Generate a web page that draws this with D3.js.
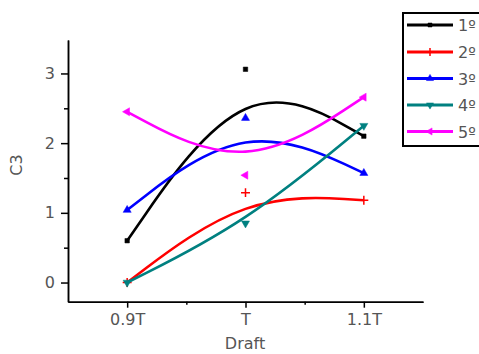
<!DOCTYPE html>
<html>
<head>
<meta charset="utf-8">
<script src="https://cdn.jsdelivr.net/npm/d3@7/dist/d3.min.js"></script>
<style>
  body { margin: 0; background: #fff; }
  svg { display: block; }
  .axis text { font-family: "DejaVu Sans", sans-serif; font-size: 16px; fill: #555; }
  .axis path, .axis line { stroke: #000; stroke-width: 1.5; }
  .label { font-family: "DejaVu Sans", sans-serif; font-size: 16px; fill: #555; }
</style>
</head>
<body>
<div id="chart"></div>
<script>
// draft categories along x
const categories = ["0.9T", "T", "1.1T"];
const xValues = [0.9, 1.0, 1.1];
const yTicks = [0, 1, 2, 3];

// C3 values per series
const seriesNames = ["1º", "2º", "3º", "4º", "5º"];
const s1 = [0.60, 3.06, 2.10];
const s2 = [0.00, 1.29, 1.18];
const s3 = [1.04, 2.36, 1.57];
const s4 = [0.00, 0.85, 2.25];
const s5 = [2.45, 1.54, 2.66];
const colors = ["#000000", "#ff0000", "#0000ff", "#008080", "#ff00ff"];

const width = 479, height = 354;

const svg = d3.select("#chart").append("svg")
    .attr("width", width)
    .attr("height", height);

const x = d3.scaleLinear().domain([0.85, 1.15]).range([68, 423]);
const y = d3.scaleLinear().domain([-0.275, 3.48]).range([301.7, 40]);

// axes (major + minor ticks)
svg.append("g")
    .attr("class", "axis")
    .attr("transform", "translate(0,301.7)")
    .call(d3.axisBottom(x).tickValues(xValues).tickFormat((d, i) => categories[i])
        .tickSize(6).tickSizeOuter(0).tickPadding(6));
svg.append("g")
    .attr("class", "axis")
    .attr("transform", "translate(0,301.7)")
    .call(d3.axisBottom(x).tickValues([0.95, 1.05]).tickFormat("").tickSize(3).tickSizeOuter(0));

svg.append("g")
    .attr("class", "axis")
    .attr("transform", "translate(68,0)")
    .call(d3.axisLeft(y).tickValues(yTicks).tickFormat(d3.format("d"))
        .tickSize(7).tickSizeOuter(0).tickPadding(6));
svg.append("g")
    .attr("class", "axis")
    .attr("transform", "translate(68,0)")
    .call(d3.axisLeft(y).tickValues([0.5, 1.5, 2.5]).tickFormat("").tickSize(4).tickSizeOuter(0));

// axis titles
svg.append("text")
    .attr("class", "label")
    .attr("x", 245).attr("y", 349)
    .attr("text-anchor", "middle")
    .text("Draft");
svg.append("text")
    .attr("class", "label")
    .attr("transform", "translate(22,165)rotate(-90)")
    .attr("text-anchor", "middle")
    .text("C3");

const allSeries = [s1, s2, s3, s4, s5];

// marker per series
function marker(i, size) {
    if (i === 0) return d3.symbol(d3.symbolSquare, size)();
    if (i === 1) return d3.symbol(d3.symbolPlus, size)();
    return d3.symbol(d3.symbolTriangle, size)();
}
const markerRot = [0, 0, 0, 180, -90];

const line = d3.line()
    .x((d, i) => x(xValues[i]))
    .y(d => y(d))
    .curve(d3.curveBasis);

allSeries.forEach((vals, si) => {
    const g = svg.append("g");
    g.append("path")
        .datum(vals)
        .attr("fill", "none")
        .attr("stroke", colors[si])
        .attr("stroke-width", 2.6)
        .attr("d", line);
    g.selectAll("path.pt")
        .data(vals)
        .enter().append("path")
        .attr("class", "pt")
        .attr("d", marker(si, si === 0 ? 20 : 28))
        .attr("transform", (d, i) => `translate(${x(xValues[i])},${y(d)})rotate(${markerRot[si]})`)
        .attr("fill", si === 1 ? "none" : colors[si])
        .attr("stroke", colors[si])
        .attr("stroke-width", si === 1 ? 1.5 : 0.5);
});

// legend
const legend = svg.append("g");
legend.append("rect")
    .attr("x", 403).attr("y", 13)
    .attr("width", 90).attr("height", 133)
    .attr("fill", "#fff")
    .attr("stroke", "#000")
    .attr("stroke-width", 2);

const legendY = [25, 52, 78.5, 105, 131.5];
seriesNames.forEach((name, i) => {
    const ly = legendY[i];
    legend.append("line")
        .attr("x1", 407).attr("x2", 453)
        .attr("y1", ly).attr("y2", ly)
        .attr("stroke", colors[i])
        .attr("stroke-width", 3);
    legend.append("path")
        .attr("d", marker(i, i === 0 ? 16 : 22))
        .attr("transform", `translate(430,${ly})rotate(${markerRot[i]})`)
        .attr("fill", i === 1 ? "none" : colors[i])
        .attr("stroke", colors[i])
        .attr("stroke-width", i === 1 ? 1.5 : 0.5);
    legend.append("text")
        .attr("class", "label")
        .attr("x", 458).attr("y", ly + 6)
        .text(name);
});
</script>
</body>
</html>
